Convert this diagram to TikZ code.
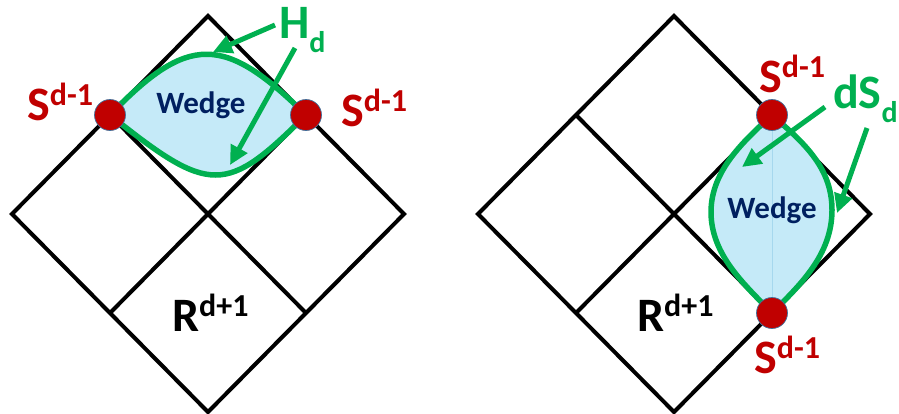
\documentclass[tikz,border=0pt]{standalone}
\usepackage{fontspec}
\setmainfont{Carlito}
\usetikzlibrary{arrows.meta}
\definecolor{pgreen}{HTML}{00B050}
\definecolor{pred}{HTML}{C00000}
\definecolor{pnavy}{HTML}{002060}
\definecolor{pfill}{HTML}{C5EAF8}
\definecolor{pedge}{HTML}{41719C}
\definecolor{pmid}{HTML}{A6D8EE}
\newcommand{\Sdm}{{\fontsize{48}{48}\selectfont S}\raisebox{15pt}{\fontsize{32}{32}\selectfont d-1}}
\newcommand{\Rdp}{{\fontsize{48}{48}\selectfont R}\raisebox{15pt}{\fontsize{32}{32}\selectfont d+1}}
\begin{document}
\begin{tikzpicture}[x=1pt,y=-1pt,
  edge/.style={draw=black,line width=4pt,line join=miter},
  lens/.style={draw=pgreen,fill=pfill,line width=5.5pt},
  dot/.style={circle,fill=pred,draw=pedge,line width=0.7pt,minimum size=31pt,inner sep=0pt},
  garrow/.style={draw=pgreen,line width=5pt,-{Triangle[length=19pt,width=18pt]}},
  lbl/.style={inner sep=0pt,font=\bfseries},
  wedgetxt/.style={inner sep=0pt,font=\bfseries\fontsize{31}{31}\selectfont,text=pnavy}]
\useasboundingbox (0,0) rectangle (899,413);
\clip (0,0) rectangle (899,413);
% ---------- left diagram ----------
\coordinate (LT) at (208,16);
\coordinate (LR) at (404,214);
\coordinate (LB) at (208,412);
\coordinate (LL) at (12,214);
\path (LT) -- (LL) coordinate[pos=0.5] (LUL);
\path (LT) -- (LR) coordinate[pos=0.5] (LUR);
\path (LB) -- (LL) coordinate[pos=0.5] (LBL);
\path (LB) -- (LR) coordinate[pos=0.5] (LBR);
\draw[edge] (LT) -- (LR) -- (LB) -- (LL) -- cycle;
\draw[edge] (LUL) -- (LBR);
\draw[edge] (LUR) -- (LBL);
\draw[lens] (LUL) .. controls (188,34) and (224,34) .. (LUR)
            .. controls (226,195) and (210,195) .. cycle;
\node[wedgetxt,anchor=base] (w1) at (201,113) {Wedge};
\node[dot] (p1) at (LUL) {};
\node[dot] (p2) at (LUR) {};
\node[lbl,text=pred,anchor=base west] (s1) at (27,120) {\Sdm};
\node[lbl,text=pred,anchor=base west] (s2) at (341,126) {\Sdm};
\node[lbl,text=black,anchor=base west] (r1) at (172,331) {\Rdp};
\node[lbl,text=pgreen,anchor=base west] (h1) at (279,38) {{\fontsize{48}{48}\selectfont H}\raisebox{-14pt}{\fontsize{30}{30}\selectfont d}};
\coordinate (a1s) at (275,25);
\coordinate (a1e) at (213,52);
\coordinate (a2s) at (295,48);
\coordinate (a2e) at (230,165);
\draw[garrow] (a1s) -- (a1e);
\draw[garrow] (a2s) -- (a2e);
% ---------- right diagram ----------
\coordinate (RT) at (674,16);
\coordinate (RR) at (870,214);
\coordinate (RB) at (674,412);
\coordinate (RL) at (478,214);
\path (RT) -- (RL) coordinate[pos=0.5] (RUL);
\path (RT) -- (RR) coordinate[pos=0.5] (RUR);
\path (RB) -- (RL) coordinate[pos=0.5] (RBL);
\path (RB) -- (RR) coordinate[pos=0.5] (RBR);
\coordinate (RWL) at (711,212);
\coordinate (RWR) at (832,210);
\draw[edge] (RT) -- (RR) -- (RB) -- (RL) -- cycle;
\draw[edge] (RUL) -- (RBR);
\draw[edge] (RUR) -- (RBL);
\draw[lens] (RUR) .. controls (745,140) and (711,170) .. (RWL)
            .. controls (711,255) and (745,285) .. (RBR)
            .. controls (800,285) and (832,255) .. (RWR)
            .. controls (832,165) and (800,140) .. cycle;
\draw[pmid,line width=0.6pt] (RUR) -- (RBR);
\node[wedgetxt,anchor=base] (w2) at (772,218) {Wedge};
\node[dot] (p3) at (RUR) {};
\node[dot] (p4) at (RBR) {};
\node[lbl,text=pred,anchor=base west] (s3) at (759,92) {\Sdm};
\node[lbl,text=pred,anchor=base west] (s4) at (754,373) {\Sdm};
\node[lbl,text=black,anchor=base west] (r2) at (637,331) {\Rdp};
\node[lbl,text=pgreen,anchor=base west] (ds) at (833,108) {{\fontsize{48}{48}\selectfont dS}\raisebox{-14pt}{\fontsize{30}{30}\selectfont d}};
\coordinate (a3s) at (825,107);
\coordinate (a3e) at (742,167);
\coordinate (a4s) at (867,128);
\coordinate (a4e) at (837,213);
\draw[garrow] (a3s) -- (a3e);
\draw[garrow] (a4s) -- (a4e);
\end{tikzpicture}
\end{document}
